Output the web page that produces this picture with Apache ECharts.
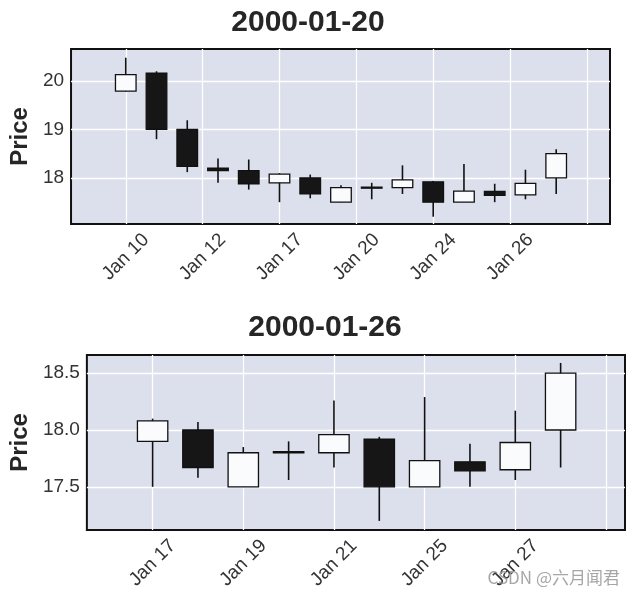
<!DOCTYPE html>
<html>
<head>
<meta charset="utf-8">
<script src="https://cdn.jsdelivr.net/npm/echarts@6/dist/echarts.min.js"></script>
<style>
  html, body { margin: 0; padding: 0; background: #fff; }
  #chart { width: 637px; height: 596px; }
</style>
</head>
<body>
<div id="chart"></div>
<script>
// daily OHLC, Jan 10 - Jan 28 2000
const dates = ["Jan 10", "Jan 11", "Jan 12", "Jan 13", "Jan 14", "Jan 17", "Jan 18", "Jan 19",
  "Jan 20", "Jan 21", "Jan 24", "Jan 25", "Jan 26", "Jan 27", "Jan 28"];
const openPrice  = [19.79, 20.16, 19.00, 18.20, 18.15, 17.90, 18.00, 17.50, 17.81, 17.80, 17.92, 17.50, 17.72, 17.65, 18.00];
const closePrice = [20.13, 19.00, 18.24, 18.15, 17.88, 18.08, 17.67, 17.80, 17.80, 17.96, 17.50, 17.73, 17.64, 17.89, 18.50];
const highPrice  = [20.48, 20.20, 19.19, 18.40, 18.38, 18.10, 18.07, 17.85, 17.90, 18.26, 17.94, 18.29, 17.88, 18.17, 18.59];
const lowPrice   = [19.78, 18.80, 18.12, 17.90, 17.76, 17.50, 17.58, 17.50, 17.56, 17.67, 17.20, 17.50, 17.50, 17.56, 17.67];

// top panel ticks
const topTitle = "2000-01-20";
const topTickPos = [0, 2.5, 5, 7.5, 10, 12.5, 15];
const topTickLabels = ["Jan 10", "Jan 12", "Jan 17", "Jan 20", "Jan 24", "Jan 26", ""];
const topYTicks = [18, 19, 20];

// bottom panel starts at Jan 17
const bottomTitle = "2000-01-26";
const bottomStart = 5;
const bottomTickPos = [0, 2, 4, 6, 8, 10];
const bottomTickLabels = ["Jan 17", "Jan 19", "Jan 21", "Jan 25", "Jan 27", ""];
const bottomYTicks = [17.5, 18.0, 18.5];

const FONT = "Liberation Sans";
const upColor = "#fafbfd";
const downColor = "#161616";
const edgeColor = "#111";

function buildRows(start) {
  const rows = [];
  for (let i = start; i < dates.length; i++) {
    rows.push([i - start, openPrice[i], closePrice[i], lowPrice[i], highPrice[i]]);
  }
  return rows;
}

function renderCandle(params, api) {
  const x = api.value(0);
  const o = api.value(1), c = api.value(2), l = api.value(3), h = api.value(4);
  const pO = api.coord([x, o]);
  const pC = api.coord([x, c]);
  const pL = api.coord([x, l]);
  const pH = api.coord([x, h]);
  const w = api.size([1, 0])[0] * 0.67;
  const top = Math.min(pO[1], pC[1]);
  const bot = Math.max(pO[1], pC[1]);
  return {
    type: "group",
    children: [
      {
        type: "line",
        shape: { x1: pL[0], y1: pL[1], x2: pH[0], y2: pH[1] },
        style: { stroke: edgeColor, lineWidth: 1.6 }
      },
      {
        type: "rect",
        shape: { x: pO[0] - w / 2, y: top, width: w, height: Math.max(bot - top, 1) },
        style: { fill: c >= o ? upColor : downColor, stroke: edgeColor, lineWidth: 1.3 }
      }
    ]
  };
}

function xAxisFor(gridIndex, min, max, pos, labels) {
  return {
    type: "value",
    gridIndex: gridIndex,
    min: min,
    max: max,
    axisLine: { show: false },
    axisTick: { show: false, customValues: pos },
    splitLine: { show: true, lineStyle: { color: "#fff", width: 1.3 } },
    axisLabel: {
      customValues: pos,
      rotate: 45,
      align: "center",
      verticalAlign: "middle",
      margin: 33,
      fontFamily: FONT,
      fontSize: 19,
      color: "#333",
      formatter: function (v) {
        const k = pos.indexOf(v);
        return k >= 0 ? labels[k] : "";
      }
    }
  };
}

function yAxisFor(gridIndex, min, max, ticks, digits, gap) {
  return {
    type: "value",
    gridIndex: gridIndex,
    min: min,
    max: max,
    name: "Price",
    nameLocation: "middle",
    nameGap: gap,
    nameTextStyle: { fontFamily: FONT, fontSize: 24, fontWeight: "bold", color: "#262626" },
    axisLine: { show: false },
    axisTick: { show: false, customValues: ticks },
    splitLine: { show: true, lineStyle: { color: "#fff", width: 1.3 } },
    axisLabel: {
      customValues: ticks,
      margin: 7,
      fontFamily: FONT,
      fontSize: 19,
      color: "#333",
      formatter: function (v) { return v.toFixed(digits); }
    }
  };
}

const chart = echarts.init(document.getElementById("chart"), null, { renderer: "canvas" });

const option = {
  backgroundColor: "#fff",
  animation: false,
  grid: [
    { left: 68, top: 49, width: 542, height: 175, show: true, backgroundColor: "#dce0ec", borderColor: edgeColor, borderWidth: 2 },
    { left: 86, top: 355, width: 539, height: 175, show: true, backgroundColor: "#dce0ec", borderColor: edgeColor, borderWidth: 2 }
  ],
  xAxis: [
    xAxisFor(0, -1.78, 15.75, topTickPos, topTickLabels),
    xAxisFor(1, -1.45, 10.42, bottomTickPos, bottomTickLabels)
  ],
  yAxis: [
    yAxisFor(0, 17.05, 20.66, topYTicks, 0, 35),
    yAxisFor(1, 17.12, 18.66, bottomYTicks, 1, 53)
  ],
  series: [
    {
      type: "custom",
      xAxisIndex: 0,
      yAxisIndex: 0,
      renderItem: renderCandle,
      encode: { x: 0, y: [1, 2, 3, 4] },
      data: buildRows(0)
    },
    {
      type: "custom",
      xAxisIndex: 1,
      yAxisIndex: 1,
      renderItem: renderCandle,
      encode: { x: 0, y: [1, 2, 3, 4] },
      data: buildRows(bottomStart)
    }
  ],
  graphic: [
    {
      type: "text", x: 308, y: 23,
      style: { text: topTitle, fontFamily: FONT, fontSize: 30, fontWeight: "bold", fill: "#262626", textAlign: "center", textVerticalAlign: "middle" }
    },
    {
      type: "text", x: 325, y: 328,
      style: { text: bottomTitle, fontFamily: FONT, fontSize: 30, fontWeight: "bold", fill: "#262626", textAlign: "center", textVerticalAlign: "middle" }
    },
    {
      type: "text", x: 620, y: 578, z: 100,
      style: { text: "CSDN @六月闻君", fontFamily: "Noto Sans CJK SC", fontSize: 17, fill: "rgba(150,150,150,0.85)", textAlign: "right", textVerticalAlign: "middle" }
    }
  ]
};

chart.setOption(option);
</script>
</body>
</html>
